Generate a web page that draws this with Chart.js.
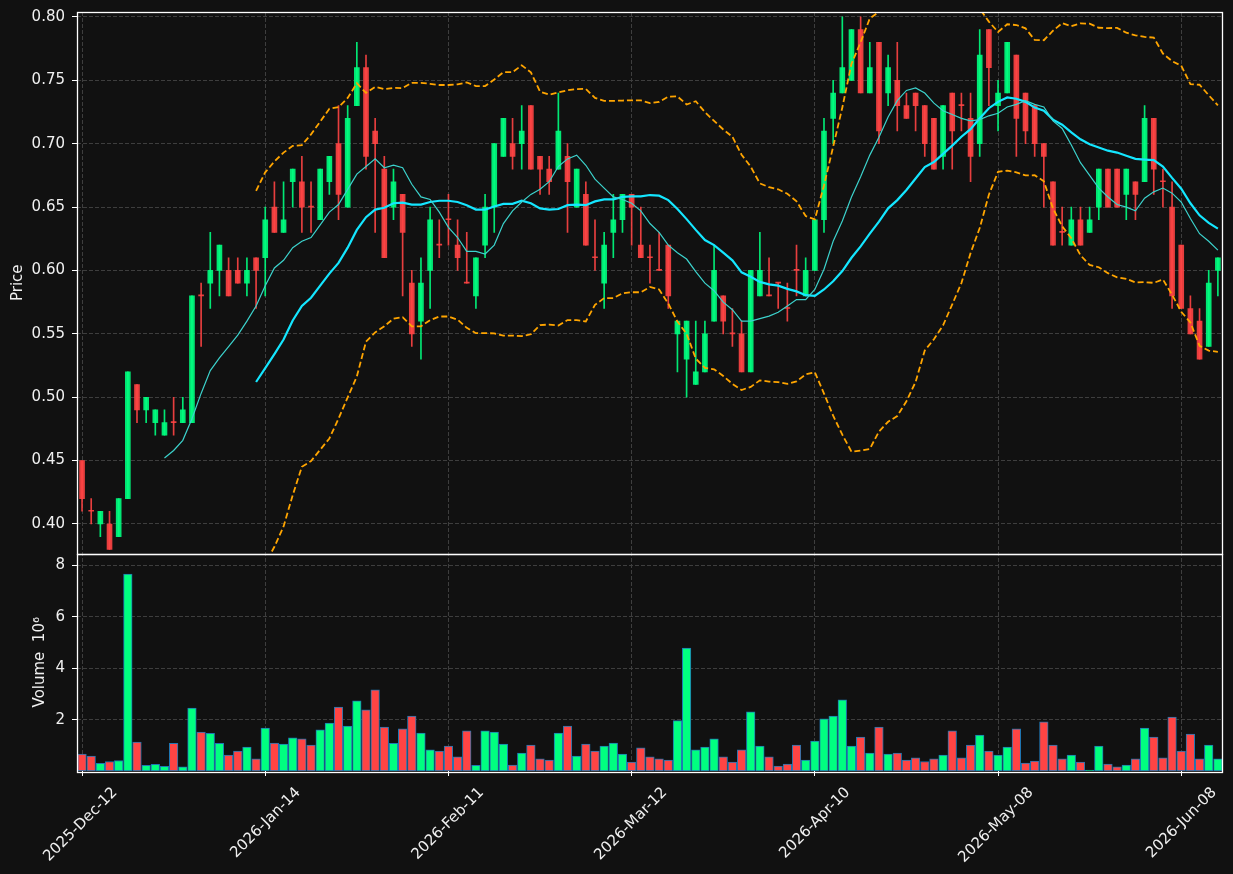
<!DOCTYPE html>
<html>
<head>
<meta charset="utf-8">
<script src="https://cdn.jsdelivr.net/npm/chart.js@4.4.0/dist/chart.umd.min.js"></script>
<style>
html, body { margin: 0; padding: 0; background: #111111; }
#wrap { width: 1233px; height: 874px; }
canvas { display: block; }
</style>
</head>
<body>
<div id="wrap"><canvas id="c" width="1233" height="874"></canvas></div>
<script>
// ---- data ----
const tickPositions = [0, 20, 40, 60, 80, 100, 120];
const tickLabels = ['2025-Dec-12', '2026-Jan-14', '2026-Feb-11', '2026-Mar-12', '2026-Apr-10', '2026-May-08', '2026-Jun-08'];
const priceTicks = [0.40, 0.45, 0.50, 0.55, 0.60, 0.65, 0.70, 0.75, 0.80];
const volumeTicks = [2, 4, 6, 8];

const opens = [
  0.45, 0.41, 0.40, 0.40, 0.39, 0.42, 0.51, 0.49, 0.48, 0.47,
  0.48, 0.48, 0.48, 0.58, 0.59, 0.60, 0.60, 0.60, 0.59, 0.61,
  0.61, 0.65, 0.63, 0.67, 0.67, 0.65, 0.64, 0.67, 0.70, 0.65,
  0.73, 0.76, 0.71, 0.68, 0.65, 0.66, 0.59, 0.56, 0.60, 0.62,
  0.64, 0.62, 0.59, 0.58, 0.62, 0.65, 0.69, 0.70, 0.70, 0.73,
  0.69, 0.68, 0.68, 0.69, 0.65, 0.66, 0.61, 0.59, 0.63, 0.64,
  0.66, 0.62, 0.61, 0.60, 0.62, 0.55, 0.53, 0.51, 0.52, 0.56,
  0.58, 0.55, 0.55, 0.52, 0.58, 0.58, 0.59, 0.57, 0.60, 0.58,
  0.60, 0.64, 0.72, 0.74, 0.75, 0.79, 0.74, 0.78, 0.74, 0.75,
  0.73, 0.74, 0.73, 0.72, 0.69, 0.74, 0.73, 0.72, 0.70, 0.79,
  0.73, 0.74, 0.77, 0.74, 0.73, 0.70, 0.67, 0.63, 0.62, 0.64,
  0.63, 0.65, 0.68, 0.68, 0.66, 0.67, 0.67, 0.72, 0.67, 0.65,
  0.62, 0.57, 0.56, 0.54, 0.60
];
const highs = [
  0.45, 0.42, 0.41, 0.41, 0.42, 0.52, 0.51, 0.50, 0.49, 0.49,
  0.50, 0.50, 0.58, 0.59, 0.63, 0.62, 0.61, 0.61, 0.61, 0.61,
  0.65, 0.67, 0.67, 0.68, 0.69, 0.67, 0.68, 0.69, 0.73, 0.73,
  0.78, 0.77, 0.72, 0.69, 0.68, 0.66, 0.60, 0.61, 0.65, 0.64,
  0.66, 0.64, 0.63, 0.61, 0.66, 0.70, 0.72, 0.72, 0.73, 0.73,
  0.69, 0.69, 0.74, 0.70, 0.68, 0.67, 0.64, 0.63, 0.66, 0.66,
  0.66, 0.65, 0.62, 0.63, 0.62, 0.56, 0.56, 0.56, 0.56, 0.62,
  0.58, 0.57, 0.56, 0.60, 0.63, 0.61, 0.59, 0.59, 0.62, 0.61,
  0.64, 0.72, 0.75, 0.80, 0.79, 0.80, 0.78, 0.78, 0.77, 0.78,
  0.74, 0.74, 0.73, 0.72, 0.73, 0.74, 0.74, 0.74, 0.79, 0.79,
  0.75, 0.78, 0.77, 0.74, 0.73, 0.70, 0.67, 0.65, 0.65, 0.65,
  0.65, 0.68, 0.68, 0.68, 0.68, 0.67, 0.73, 0.72, 0.68, 0.67,
  0.62, 0.58, 0.57, 0.60, 0.61
];
const lows = [
  0.41, 0.40, 0.39, 0.38, 0.39, 0.42, 0.48, 0.48, 0.47, 0.47,
  0.47, 0.48, 0.48, 0.54, 0.57, 0.58, 0.58, 0.59, 0.58, 0.57,
  0.58, 0.63, 0.63, 0.65, 0.63, 0.63, 0.64, 0.66, 0.64, 0.65,
  0.73, 0.68, 0.63, 0.61, 0.64, 0.58, 0.54, 0.53, 0.57, 0.61,
  0.62, 0.60, 0.59, 0.57, 0.61, 0.63, 0.69, 0.68, 0.68, 0.68,
  0.66, 0.66, 0.68, 0.63, 0.65, 0.62, 0.60, 0.57, 0.61, 0.63,
  0.62, 0.61, 0.59, 0.60, 0.57, 0.52, 0.50, 0.51, 0.52, 0.56,
  0.55, 0.54, 0.52, 0.52, 0.58, 0.58, 0.57, 0.56, 0.58, 0.58,
  0.60, 0.63, 0.70, 0.74, 0.75, 0.74, 0.74, 0.70, 0.73, 0.71,
  0.72, 0.71, 0.69, 0.68, 0.68, 0.68, 0.71, 0.67, 0.69, 0.73,
  0.71, 0.74, 0.69, 0.70, 0.69, 0.65, 0.62, 0.62, 0.62, 0.62,
  0.63, 0.64, 0.65, 0.65, 0.64, 0.64, 0.67, 0.66, 0.65, 0.57,
  0.57, 0.55, 0.53, 0.54, 0.58
];
const closes = [
  0.42, 0.41, 0.41, 0.38, 0.42, 0.52, 0.49, 0.50, 0.49, 0.48,
  0.48, 0.49, 0.58, 0.58, 0.60, 0.62, 0.58, 0.59, 0.60, 0.60,
  0.64, 0.63, 0.64, 0.68, 0.65, 0.65, 0.68, 0.69, 0.66, 0.72,
  0.76, 0.69, 0.70, 0.61, 0.67, 0.63, 0.55, 0.59, 0.64, 0.62,
  0.64, 0.61, 0.59, 0.61, 0.65, 0.70, 0.72, 0.69, 0.71, 0.68,
  0.68, 0.67, 0.71, 0.67, 0.68, 0.62, 0.61, 0.62, 0.64, 0.66,
  0.65, 0.61, 0.61, 0.60, 0.58, 0.56, 0.56, 0.52, 0.55, 0.60,
  0.56, 0.55, 0.52, 0.60, 0.60, 0.58, 0.59, 0.57, 0.60, 0.60,
  0.64, 0.71, 0.74, 0.76, 0.79, 0.74, 0.76, 0.71, 0.76, 0.73,
  0.72, 0.73, 0.70, 0.68, 0.73, 0.71, 0.73, 0.69, 0.77, 0.76,
  0.74, 0.78, 0.72, 0.71, 0.70, 0.69, 0.62, 0.63, 0.64, 0.62,
  0.64, 0.68, 0.65, 0.65, 0.68, 0.66, 0.72, 0.68, 0.67, 0.58,
  0.57, 0.55, 0.53, 0.59, 0.61
];
// volume in millions
const volumes = [
  0.66, 0.58, 0.30, 0.37, 0.41, 7.67, 1.13, 0.22, 0.26, 0.18,
  1.08, 0.16, 2.45, 1.52, 1.47, 1.08, 0.62, 0.78, 0.93, 0.47,
  1.67, 1.09, 1.05, 1.29, 1.25, 1.01, 1.60, 1.87, 2.49, 1.75,
  2.73, 2.38, 3.16, 1.71, 1.08, 1.64, 2.14, 1.48, 0.82, 0.78,
  0.97, 0.55, 1.56, 0.22, 1.56, 1.52, 1.05, 0.23, 0.70, 1.01,
  0.47, 0.43, 1.48, 1.75, 0.58, 1.05, 0.78, 0.97, 1.09, 0.66,
  0.35, 0.90, 0.55, 0.47, 0.43, 1.96, 4.79, 0.82, 0.93, 1.25,
  0.55, 0.35, 0.82, 2.30, 0.97, 0.55, 0.19, 0.27, 1.01, 0.43,
  1.17, 2.03, 2.14, 2.77, 0.97, 1.32, 0.70, 1.71, 0.66, 0.70,
  0.43, 0.51, 0.37, 0.47, 0.62, 1.56, 0.51, 1.01, 1.40, 0.78,
  0.62, 0.93, 1.64, 0.31, 0.39, 1.91, 1.01, 0.47, 0.62, 0.35,
  0.04, 0.97, 0.27, 0.16, 0.23, 0.47, 1.67, 1.32, 0.51, 2.10,
  0.78, 1.44, 0.47, 1.01, 0.47
];

// ---- indicators derived from the closes (10 / 20 period averages, 20 period 2-sigma bands) ----
function movingAverage(values, n) {
  return values.map((_, i) => {
    if (i < n - 1) return null;
    let s = 0;
    for (let k = i - n + 1; k <= i; k++) s += values[k];
    return s / n;
  });
}
function band(values, n, mult) {
  const mean = movingAverage(values, n);
  return values.map((_, i) => {
    if (mean[i] === null) return null;
    let s = 0;
    for (let k = i - n + 1; k <= i; k++) s += (values[k] - mean[i]) ** 2;
    return mean[i] + mult * Math.sqrt(s / n);
  });
}
const ma10 = movingAverage(closes, 10);
const ma20 = movingAverage(closes, 20);
const upperBand = band(closes, 20, 2);
const lowerBand = band(closes, 20, -2);

// ---- styling ----
const FONT = 'DejaVu Sans';
const FS = 15;
const TEXT = '#f0f0f0';
const GRID = '#3e3e3e';
const UP_CANDLE = 'rgba(0,255,128,0.9)';
const DOWN_CANDLE = 'rgba(255,68,68,0.9)';
const UP_VOL = '#00ff80';
const DOWN_VOL = '#ff4444';

const isUp = closes.map((c, i) => c > opens[i]);
const candleColors = isUp.map(u => u ? UP_CANDLE : DOWN_CANDLE);
const volColors = isUp.map(u => u ? UP_VOL : DOWN_VOL);

const idx = closes.map((_, i) => i);
const pts = arr => idx.map(i => ({ x: i, y: arr[i] }));

const bgPlugin = {
  id: 'bg',
  beforeDraw(chart) {
    const ctx = chart.ctx;
    ctx.save();
    ctx.fillStyle = '#111111';
    ctx.fillRect(0, 0, chart.width, chart.height);
    ctx.restore();
  }
};
const clipPlugin = {
  id: 'panelClip',
  beforeDatasetDraw(chart, args) {
    const ds = chart.data.datasets[args.index];
    const ys = chart.scales[ds.yAxisID];
    const xs = chart.scales.x;
    const ctx = chart.ctx;
    ctx.save();
    ctx.beginPath();
    ctx.rect(xs.left, ys.top, xs.right - xs.left, ys.bottom - ys.top);
    ctx.clip();
  },
  afterDatasetDraw(chart) {
    chart.ctx.restore();
  }
};
const framePlugin = {
  id: 'frame',
  afterDraw(chart) {
    const ctx = chart.ctx;
    const x = chart.scales.x;
    const yp = chart.scales.y;
    const yv = chart.scales.yv;
    ctx.save();
    ctx.strokeStyle = '#ffffff';
    ctx.lineWidth = 1.3;
    ctx.strokeRect(Math.round(x.left) + 0.5, Math.round(yp.top) + 0.5, Math.round(x.right - x.left), Math.round(yp.bottom - yp.top));
    ctx.strokeRect(Math.round(x.left) + 0.5, Math.round(yv.top) + 0.5, Math.round(x.right - x.left), Math.round(yv.bottom - yv.top));
    ctx.restore();
  }
};

const commonGrid = {
  color: GRID,
  lineWidth: 1,
  tickColor: '#ffffff',
  tickLength: 5,
  tickWidth: 1,
  tickBorderDash: [],
  drawTicks: true,
  offset: false
};
const commonBorder = { display: false, dash: [4, 2] };

new Chart(document.getElementById('c'), {
  type: 'bar',
  data: {
    datasets: [
      { type: 'line', label: 'MA10', yAxisID: 'y', data: pts(ma10), borderColor: '#3cd2cc', borderWidth: 1.2, pointRadius: 0, tension: 0, spanGaps: false, order: 0 },
      { type: 'line', label: 'MA20', yAxisID: 'y', data: pts(ma20), borderColor: '#14e6ff', borderWidth: 2.2, pointRadius: 0, tension: 0, spanGaps: false, order: 0 },
      { type: 'line', label: 'Upper', yAxisID: 'y', data: pts(upperBand), borderColor: '#ffa500', borderWidth: 1.8, borderDash: [6, 3], pointRadius: 0, tension: 0, spanGaps: false, order: 1 },
      { type: 'line', label: 'Lower', yAxisID: 'y', data: pts(lowerBand), borderColor: '#ffa500', borderWidth: 1.8, borderDash: [6, 3], pointRadius: 0, tension: 0, spanGaps: false, order: 1 },
      { type: 'bar', label: 'Body', yAxisID: 'y', data: idx.map(i => ({ x: i, y: [opens[i], closes[i]] })), backgroundColor: candleColors, borderWidth: 0, barThickness: 5, minBarLength: 1, grouped: false, order: 2 },
      { type: 'bar', label: 'Wick', yAxisID: 'y', data: idx.map(i => ({ x: i, y: [lows[i], highs[i]] })), backgroundColor: candleColors, borderWidth: 0, barThickness: 1, grouped: false, order: 3 },
      { type: 'bar', label: 'Volume', yAxisID: 'yv', data: idx.map(i => ({ x: i, y: volumes[i] })), backgroundColor: volColors, borderColor: '#1f77b4', borderWidth: 1, borderSkipped: false, barThickness: 8.6, grouped: false, order: 4 }
    ]
  },
  options: {
    responsive: false,
    devicePixelRatio: 1,
    animation: false,
    events: [],
    layout: { padding: { top: 12, right: 11, left: 0, bottom: 0 } },
    plugins: { legend: { display: false }, tooltip: { enabled: false } },
    scales: {
      x: {
        type: 'linear',
        position: 'bottom',
        offset: false,
        min: -0.55,
        max: 124.45,
        grid: commonGrid,
        border: commonBorder,
        afterBuildTicks: s => { s.ticks = tickPositions.map(v => ({ value: v })); },
        afterFit: s => { s.height = 103; s.paddingLeft = 0; s.paddingRight = 0; },
        ticks: {
          autoSkip: false,
          minRotation: 45,
          maxRotation: 45,
          padding: 8,
          labelOffset: 33,
          color: TEXT,
          font: { family: FONT, size: FS },
          callback: v => tickLabels[tickPositions.indexOf(v)]
        }
      },
      y: {
        type: 'linear',
        position: 'left',
        stack: 'panels',
        stackWeight: 541.5,
        weight: 2,
        min: 0.3767,
        max: 0.8039,
        grid: commonGrid,
        border: commonBorder,
        afterBuildTicks: s => { s.ticks = priceTicks.map(v => ({ value: v })); },
        afterFit: s => { s.width = 77; s.paddingTop = 0; s.paddingBottom = 0; },
        ticks: { padding: 7, color: TEXT, font: { family: FONT, size: FS }, callback: v => Number(v).toFixed(2) },
        title: { display: true, text: 'Price', color: TEXT, font: { family: FONT, size: FS }, padding: { top: 9, bottom: 0 } }
      },
      yv: {
        type: 'linear',
        position: 'left',
        stack: 'panels',
        stackWeight: 217.5,
        weight: 1,
        min: 0,
        max: 8.47,
        grid: commonGrid,
        border: commonBorder,
        afterBuildTicks: s => { s.ticks = volumeTicks.map(v => ({ value: v })); },
        afterFit: s => { s.width = 77; s.paddingTop = 0; s.paddingBottom = 0; },
        ticks: { padding: 7, color: TEXT, font: { family: FONT, size: FS }, callback: v => String(v) },
        title: { display: true, text: 'Volume  10\u2076', color: TEXT, font: { family: FONT, size: FS }, padding: { top: 31, bottom: 0 } }
      }
    }
  },
  plugins: [bgPlugin, clipPlugin, framePlugin]
});
</script>
</body>
</html>
